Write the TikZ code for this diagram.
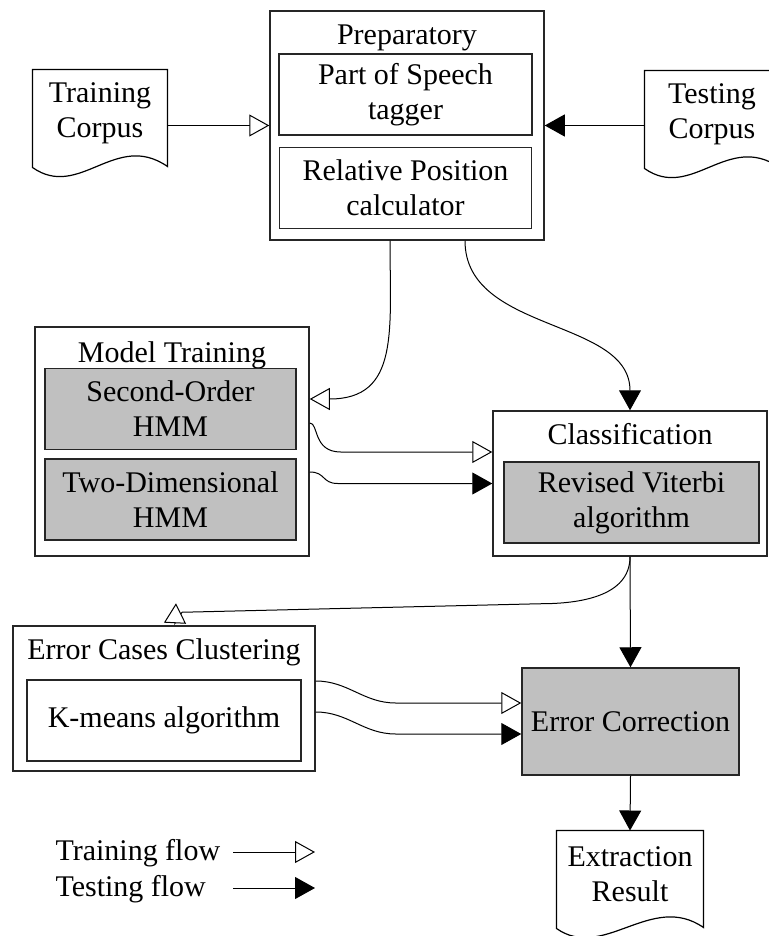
\documentclass[tikz,border=0pt]{standalone}
\usepackage{fontspec}
\setmainfont{Liberation Serif}
\usetikzlibrary{arrows.meta}
\definecolor{boxgray}{RGB}{192,192,192}
\newcommand{\docframe}[1]{%
	\draw[line width=0.6pt] ([yshift=-5.5pt]#1.south west) -- (#1.north west) -- (#1.north east)
		-- ([yshift=-5pt]#1.south east)
		.. controls +(-26pt,18pt) and +(23.5pt,-16.5pt) .. ([yshift=-5.5pt]#1.south west) -- cycle;}

\begin{document}
\begin{tikzpicture}[x=0.5pt, y=-0.5pt, line width=0.5pt,
	every node/.style={align=center, inner sep=0pt, font=\fontsize{15}{17.5}\selectfont},
	outerbox/.style={draw=black!85, line width=0.75pt, minimum width=137pt},
	innerbox/.style={draw=black!85, line width=0.75pt, fill=white, minimum height=40.5pt},
	graybox/.style={innerbox, fill=boxgray},
	docbox/.style={minimum width=67pt, minimum height=43pt},
	boxtitle/.style={anchor=base},
	trainflow/.style={-{Triangle[length=10pt, width=11pt, fill=white]}},
	testflow/.style={-{Triangle[length=10pt, width=11pt]}}]
	\useasboundingbox (0,0) rectangle (769,936);

	% corpora
	\node (train) [docbox] at (100,113) {Training\\Corpus};
	\node (test) [docbox] at (712,114) {Testing\\Corpus};
	\docframe{train}
	\docframe{test}

	% preparatory stage
	\node (prep) [outerbox, minimum height=114.5pt] at (407,125.5) {};
	\node (preptitle) [boxtitle] at (407,45) {Preparatory};
	\node (pos) [innerbox, minimum width=126.5pt] at (405.5,94.5) {Part of Speech\\tagger};
	\node (rpc) [innerbox, minimum width=126pt, below of=pos, node distance=46.75pt] {Relative Position\\calculator};

	% model training
	\node (mt) [outerbox, minimum height=114.5pt] at (172,441.5) {};
	\node (mttitle) [boxtitle] at (172,362) {Model Training};
	\node (so) [graybox, minimum width=125.5pt] at (170.5,409) {Second-Order\\HMM};
	\node (td) [graybox, minimum width=125.5pt, below of=so, node distance=45.25pt] {Two-Dimensional\\HMM};

	% classification
	\node (cls) [outerbox, minimum height=72.5pt] at (630,483.5) {};
	\node (clstitle) [boxtitle] at (630,444) {Classification};
	\node (rva) [graybox, minimum width=127.5pt] at (631.5,502.5) {Revised Viterbi\\algorithm};

	% error handling
	\node (ecc) [outerbox, minimum width=151pt, minimum height=72.5pt] at (164,698.5) {};
	\node (ecctitle) [boxtitle] at (164,659) {Error Cases Clustering};
	\node (km) [innerbox, minimum width=137pt] at (164,720.5) {K-means algorithm};
	\node (ecorr) [graybox, minimum width=108.5pt, minimum height=53.5pt] at (630.5,721.5) {Error Correction};
	\node (res) [docbox, minimum width=73pt] at (630,874) {Extraction\\Result};
	\docframe{res}

	% legend
	\node (lgtrain) [anchor=base west] at (55,860) {Training flow};
	\node (lgtest) [anchor=base west] at (55,896) {Testing flow};
	\coordinate (lgtraina) at (233,852);
	\coordinate (lgtrainb) at (315,852);
	\coordinate (lgtesta) at (233,888);
	\coordinate (lgtestb) at (315,888);

	\path[draw]
		(train.east |- prep.west) edge[trainflow] (prep.west)
		(test.west |- prep.east) edge[testflow] (prep.east)
		([xshift=-8.5pt]prep.south) edge[trainflow, out=-90, in=0, looseness=1.3] ([yshift=21.25pt]mt.east)
		([xshift=29pt]prep.south) edge[testflow, out=-90, in=90] (cls.north)
		(cls.south) edge[testflow] (ecorr.north)
		(ecorr.south) edge[testflow] (res.north)
		(lgtraina) edge[trainflow] (lgtrainb)
		(lgtesta) edge[testflow] (lgtestb);

	\draw[trainflow] ([yshift=9.25pt]mt.east) .. controls +(4.5pt,0pt) and +(-14pt,0pt) .. ++(15.5pt,-14.5pt) -- ([yshift=15.75pt]cls.west);
	\draw[testflow] ([yshift=-15.25pt]mt.east) .. controls +(8pt,0pt) and +(-8pt,0pt) .. ++(14pt,-5.75pt) -- (cls.west);
	\draw[trainflow] ([yshift=8.75pt]ecc.east) to[out=0, in=180] ++(40pt,-11pt) -- ([yshift=9.25pt]ecorr.west);
	\draw[testflow] ([yshift=-6.75pt]ecc.east) to[out=0, in=180] ++(40pt,-11pt) -- ([yshift=-6.25pt]ecorr.west);
	\draw[trainflow] (cls.south) to[out=-90, in=0] ++(-45pt,-23.5pt) -- ([xshift=9pt,yshift=6.5pt]ecc.north)
		-- ([xshift=5.5pt,yshift=1pt]ecc.north) -- ([xshift=6pt,yshift=11pt]ecc.north);

\end{tikzpicture}
\end{document}
